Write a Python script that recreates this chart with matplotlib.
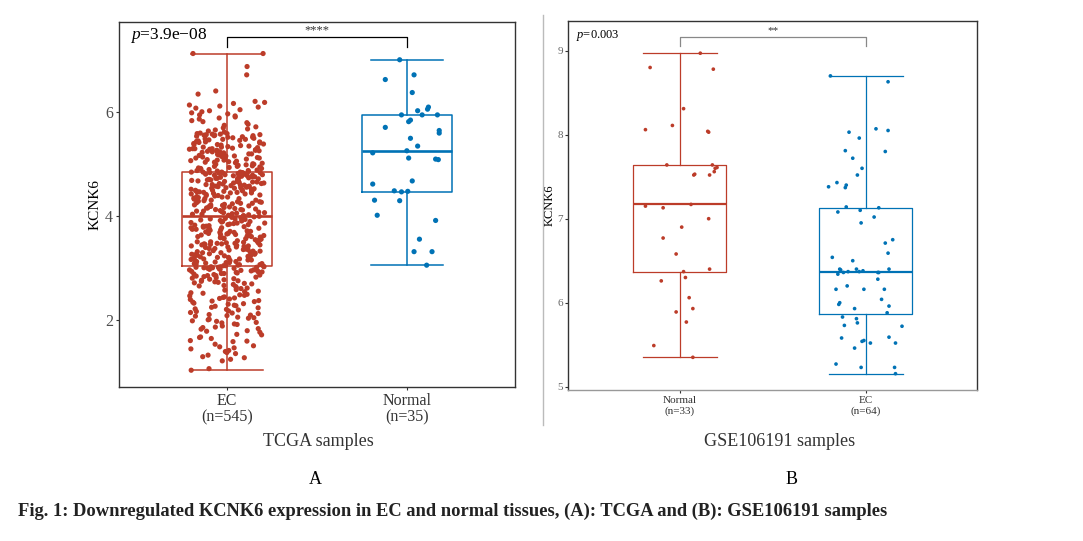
import numpy as np
import matplotlib
matplotlib.use("Agg")
import matplotlib.pyplot as plt
from matplotlib.lines import Line2D

plt.rcParams['font.family'] = ['Liberation Serif', 'DejaVu Serif']
plt.rcParams['mathtext.fontset'] = 'custom'
plt.rcParams['mathtext.rm'] = 'Liberation Serif'
plt.rcParams['mathtext.it'] = 'Liberation Serif:italic'

# ---------------- data ----------------
tcga_categories = ["EC\n(n=545)", "Normal\n(n=35)"]
gse_categories = ["Normal\n(n=33)", "EC\n(n=64)"]

tcga_ec = [
    1.04, 1.07, 1.22, 1.25, 1.28, 1.30, 1.33, 1.38, 1.40, 1.42, 1.45, 1.47, 1.36, 1.49,
    1.51, 1.54, 1.59, 1.60, 1.61, 1.65, 1.67, 1.68, 1.72, 1.73, 1.77, 1.79, 1.80, 1.83,
    1.84, 1.86, 1.87, 1.89, 1.92, 1.93, 1.95, 1.96, 1.98, 1.99,
    2.01, 2.02, 2.04, 2.05, 2.06, 2.08, 2.09, 2.10, 2.11, 2.13, 2.14, 2.15, 2.17, 2.18,
    2.20, 2.21, 2.22, 2.24, 2.25, 2.27, 2.28, 2.29, 2.31, 2.32, 2.33, 2.35, 2.36, 2.37,
    2.38, 2.40, 2.41, 2.42, 2.43, 2.44, 2.45, 2.47, 2.48, 2.49,
    2.50, 2.52, 2.53, 2.55, 2.56, 2.58, 2.59, 2.61, 2.62, 2.63, 2.65, 2.66, 2.67, 2.69,
    2.70, 2.71, 2.72, 2.73, 2.74, 2.75, 2.76, 2.77, 2.78, 2.79, 2.80, 2.81, 2.82, 2.83,
    2.84, 2.85, 2.86, 2.86, 2.87, 2.88, 2.89, 2.90, 2.90, 2.91, 2.92, 2.93, 2.93, 2.94,
    2.95, 2.95, 2.96, 2.97, 2.97, 2.98, 2.98, 2.99, 3.00, 3.00, 3.01, 3.01, 3.02, 3.02,
    3.02, 3.03, 3.03, 3.03,
    3.04, 3.05, 3.05, 3.06, 3.07, 3.07, 3.08, 3.09, 3.09, 3.10, 3.11, 3.11, 3.12, 3.13,
    3.13, 3.14, 3.15, 3.16, 3.16, 3.17, 3.18, 3.18, 3.19, 3.20, 3.21, 3.21, 3.22, 3.23,
    3.24, 3.24, 3.25, 3.26, 3.27, 3.27, 3.28, 3.29, 3.30, 3.30, 3.31, 3.32, 3.33, 3.33,
    3.34, 3.35, 3.36, 3.36, 3.37, 3.38, 3.38, 3.39, 3.40, 3.41, 3.41, 3.42, 3.43, 3.43,
    3.44, 3.45, 3.45, 3.46, 3.46, 3.47, 3.47, 3.48, 3.48, 3.49, 3.49, 3.50,
    3.51, 3.51, 3.52, 3.53, 3.53, 3.54, 3.55, 3.55, 3.56, 3.57, 3.57, 3.58, 3.59, 3.59,
    3.60, 3.61, 3.61, 3.62, 3.63, 3.63, 3.64, 3.65, 3.65, 3.66, 3.67, 3.67, 3.68, 3.69,
    3.69, 3.70, 3.71, 3.71, 3.72, 3.73, 3.73, 3.74, 3.75, 3.75, 3.76, 3.77, 3.78, 3.78,
    3.79, 3.80, 3.81, 3.81, 3.82, 3.83, 3.84, 3.84, 3.85, 3.86, 3.87, 3.87, 3.88, 3.89,
    3.90, 3.90, 3.91, 3.92, 3.93, 3.94, 3.95, 3.95, 3.96, 3.97, 3.98, 3.99,
    4.00, 4.01, 4.01, 4.02, 4.03, 4.04, 4.04, 4.05, 4.06, 4.07, 4.07, 4.08, 4.09, 4.10,
    4.10, 4.11, 4.12, 4.13, 4.13, 4.14, 4.15, 4.16, 4.16, 4.17, 4.18, 4.19, 4.19, 4.20,
    4.21, 4.22, 4.22, 4.23, 4.24, 4.25, 4.25, 4.26, 4.27, 4.28, 4.28, 4.29, 4.30, 4.31,
    4.31, 4.32, 4.33, 4.34, 4.34, 4.35, 4.36, 4.37, 4.37, 4.38, 4.39, 4.40, 4.40, 4.41,
    4.42, 4.43, 4.43, 4.44, 4.45, 4.45, 4.46, 4.46, 4.47, 4.47, 4.48, 4.48, 4.49, 4.49,
    4.50, 4.50,
    4.51, 4.51, 4.52, 4.52, 4.53, 4.54, 4.54, 4.55, 4.55, 4.56, 4.57, 4.57, 4.58, 4.58,
    4.59, 4.60, 4.60, 4.61, 4.61, 4.62, 4.63, 4.63, 4.64, 4.64, 4.65, 4.66, 4.66, 4.67,
    4.67, 4.68, 4.69, 4.69, 4.70, 4.70, 4.71, 4.72, 4.72, 4.73, 4.73, 4.74, 4.75, 4.75,
    4.76, 4.76, 4.77, 4.78, 4.78, 4.79, 4.79, 4.80, 4.80, 4.81, 4.81, 4.82, 4.82, 4.83,
    4.83, 4.83, 4.84, 4.84, 4.84, 4.85, 4.85, 4.85, 4.85,
    4.86, 4.87, 4.88, 4.88, 4.89, 4.90, 4.91, 4.92, 4.92, 4.93, 4.94, 4.95, 4.96, 4.96,
    4.97, 4.98, 4.99, 5.00, 5.00, 5.01, 5.02, 5.03, 5.04, 5.04, 5.05, 5.06, 5.07, 5.08,
    5.08, 5.09, 5.10, 5.11, 5.12, 5.12, 5.13, 5.14, 5.15, 5.16, 5.16, 5.17, 5.18, 5.19,
    5.20, 5.20, 5.21, 5.22, 5.23, 5.24, 5.24, 5.25, 5.25, 5.26, 5.26, 5.27, 5.27, 5.28,
    5.28, 5.29, 5.29, 5.30, 5.30, 5.30,
    5.31, 5.32, 5.33, 5.33, 5.34, 5.35, 5.36, 5.37, 5.38, 5.38, 5.39, 5.40, 5.41, 5.42,
    5.43, 5.43, 5.44, 5.45, 5.46, 5.47, 5.48, 5.48, 5.49, 5.50, 5.51, 5.52, 5.52, 5.53,
    5.54, 5.55, 5.55, 5.56, 5.56, 5.57, 5.57, 5.58, 5.58, 5.59, 5.59, 5.60,
    5.62, 5.64, 5.66, 5.68, 5.70, 5.72, 5.75, 5.77, 5.80, 5.82, 5.84, 5.87, 5.89, 5.91,
    5.93, 5.95, 5.97, 5.99,
    6.01, 6.03, 6.05, 6.08, 6.10, 6.12, 6.14, 6.17, 6.19, 6.21, 6.35, 6.41,
    6.72, 6.88, 7.13, 7.13,
]

tcga_normal = [7.01, 6.72, 6.63, 6.38, 6.03, 6.10, 6.06, 5.95, 5.95, 5.95, 5.85, 5.82,
               5.71, 5.60, 5.65, 5.50, 5.35, 5.22, 5.26, 5.12, 5.10, 5.09, 4.62, 4.68,
               4.49, 4.47, 4.48, 4.31, 4.30, 4.02, 3.92, 3.56, 3.32, 3.32, 3.06]

gse_normal = [8.97, 8.80, 8.78, 8.31, 8.06, 8.11, 8.04, 8.03, 7.64, 7.64, 7.53, 7.52,
              7.52, 7.60, 7.61, 7.56, 7.15, 7.13, 7.17, 7.00, 6.90, 6.77, 6.58, 6.37,
              6.40, 6.26, 6.30, 6.06, 5.89, 5.93, 5.77, 5.49, 5.35]

gse_ec = [8.70, 8.63, 8.07, 8.05, 8.03, 7.96, 7.81, 7.80, 7.72, 7.60,
          7.52, 7.43, 7.40, 7.37, 7.38, 7.14, 7.13, 7.08, 7.10, 7.02,
          6.95, 6.75, 6.71, 6.59, 6.54, 6.50, 6.40, 6.39, 6.34, 6.37,
          6.40, 6.37, 6.38, 6.36, 6.36, 6.40, 6.36, 6.16, 6.20, 6.16,
          6.28, 6.16, 6.04, 5.98, 6.00, 5.93, 5.96, 5.88, 5.83, 5.81,
          5.73, 5.76, 5.72, 5.58, 5.54, 5.55, 5.52, 5.59, 5.52, 5.46,
          5.27, 5.23, 5.23, 5.155]

# ---------------- jitter positions (horizontal offsets only) ----------------
jit_tcga_normal = [-0.04, 0.04, -0.12, 0.03, 0.06, 0.12, 0.115, -0.03, 0.085, 0.17, 0.02,
                   0.01, -0.12, 0.18, 0.18, 0.02, 0.06, -0.19, 0.0, 0.01, 0.16, 0.175,
                   -0.19, 0.03, -0.07, -0.03, 0.005, -0.18, -0.04, -0.165, 0.16, 0.07,
                   0.04, 0.14, 0.11]
jit_gse_normal = [0.11, -0.16, 0.18, 0.02, -0.185, -0.04, 0.15, 0.155, -0.07, 0.175, 0.08,
                  0.075, 0.16, 0.19, 0.2, 0.185, -0.185, -0.09, 0.06, 0.155, 0.01, -0.09,
                  -0.02, 0.02, 0.16, -0.10, 0.03, 0.05, -0.02, 0.07, 0.035, -0.14, 0.07]
jit_gse_ec = [-0.19, 0.12, 0.055, 0.12, -0.09, -0.035, -0.11, 0.105, -0.07, -0.02,
              -0.045, -0.155, -0.105, -0.11, -0.20, -0.105, 0.07, -0.15, -0.03, 0.045,
              -0.025, 0.145, 0.105, 0.12, -0.18, -0.07, -0.14, -0.135, -0.15, -0.095,
              -0.05, -0.035, -0.015, 0.065, 0.07, 0.125, -0.12, -0.16, -0.10, -0.01,
              0.065, 0.10, 0.085, -0.145, -0.14, -0.06, 0.125, 0.115, -0.125, -0.05,
              -0.115, -0.045, 0.195, -0.13, -0.02, -0.01, 0.025, 0.125, 0.16, -0.06,
              -0.16, -0.025, 0.155, 0.16]
_n = len(tcga_ec)
_hash = np.modf(np.abs(np.sin(np.arange(_n) * 12.9898 + 78.233)) * 43758.5453)[0]
jit_tcga_ec = list((_hash - 0.5) * 0.42)
jit_tcga_ec[0] = -0.2
jit_tcga_ec[-1] = 0.2
jit_tcga_ec[-2] = -0.19

RED = '#BC3C29'
BLUE = '#0072B5'
TXT = '#333333'

W, H = 1083, 541
fig = plt.figure(figsize=(W / 100, H / 100), dpi=100)


def px_axes(l, t, r, b):
    return fig.add_axes([l / W, 1 - b / H, (r - l) / W, (b - t) / H])


def draw_panel(ax, groups, jitters, colors, lw, mlw, ms):
    bp = ax.boxplot(groups, positions=[1, 2], widths=0.5, whis=1.5, showfliers=False,
                    capwidths=0.4, patch_artist=False, manage_ticks=False)
    for i, c in enumerate(colors):
        bp['boxes'][i].set(color=c, linewidth=lw, zorder=2)
        bp['medians'][i].set(color=c, linewidth=mlw, zorder=2)
        for k in (2 * i, 2 * i + 1):
            bp['whiskers'][k].set(color=c, linewidth=lw, zorder=2)
            bp['caps'][k].set(color=c, linewidth=lw, zorder=2)
    for i, (g, j, c) in enumerate(zip(groups, jitters, colors)):
        xs = [i + 1 + d for d in j]
        ax.scatter(xs, g, s=ms, color=c, edgecolors='none', zorder=3)
    ax.set_xlim(0.4, 2.6)
    for sp in ax.spines.values():
        sp.set_color(TXT)
        sp.set_linewidth(1.0)


# ---------- Panel A ----------
axA = px_axes(119.3, 21.5, 514.7, 386.5)
draw_panel(axA, [tcga_ec, tcga_normal], [jit_tcga_ec, jit_tcga_normal], [RED, BLUE],
           lw=1.1, mlw=1.9, ms=14)
axA.set_ylim(0.727, 7.746)
axA.set_yticks([2, 4, 6])
axA.set_xticks([1, 2])
axA.set_xticklabels(tcga_categories, fontsize=11.5, color=TXT, linespacing=1.05)
axA.tick_params(axis='y', labelsize=11.5, labelcolor='#4D4D4D', length=2.5, width=0.8,
                color=TXT, pad=2)
axA.tick_params(axis='x', length=2.5, width=0.8, color=TXT, pad=2)
axA.plot([1, 1, 2, 2], [7.26, 7.44, 7.44, 7.26], color='black', lw=0.9, zorder=4)
axA.text(1.5, 7.47, '****', ha='center', va='bottom', fontsize=9, color=TXT)
axA.text(0.027, 0.963, r'$p$=3.9e−08', transform=axA.transAxes, ha='left', va='center',
         fontsize=12.5, color='black')

# ---------- Panel B ----------
axB = px_axes(568.3, 20.7, 977.3, 390.0)
draw_panel(axB, [gse_normal, gse_ec], [jit_gse_normal, jit_gse_ec], [RED, BLUE],
           lw=0.9, mlw=1.6, ms=7)
axB.set_ylim(4.961, 9.357)
axB.set_yticks([5, 6, 7, 8, 9])
axB.set_xticks([1, 2])
axB.set_xticklabels(gse_categories, fontsize=8, color=TXT, linespacing=1.2)
axB.tick_params(axis='y', labelsize=8, labelcolor='#666666', length=2, width=0.8,
                color=TXT, pad=2)
axB.tick_params(axis='x', length=2, width=0.8, color=TXT, pad=2)
axB.spines['bottom'].set_color('#999999')
axB.plot([1, 1, 2, 2], [9.05, 9.167, 9.167, 9.05], color='#888888', lw=0.9, zorder=4)
axB.text(1.5, 9.19, '**', ha='center', va='bottom', fontsize=8, color=TXT)
axB.text(0.019, 0.959, r'$p$=0.003', transform=axB.transAxes, ha='left', va='center',
         fontsize=9, color='black')


def ftext(x, y, s, **kw):
    fig.text(x / W, 1 - y / H, s, **kw)


ftext(95, 204, 'KCNK6', rotation=90, ha='center', va='center', fontsize=11, color='black')
ftext(550, 205, 'KCNK6', rotation=90, ha='center', va='center', fontsize=9, color='black')
ftext(318, 441, 'TCGA samples', ha='center', va='center', fontsize=13, color=TXT)
ftext(780, 441, 'GSE106191 samples', ha='center', va='center', fontsize=13, color=TXT)
ftext(315, 479, 'A', ha='center', va='center', fontsize=13, color='black')
ftext(792, 479, 'B', ha='center', va='center', fontsize=13, color='black')
ftext(18, 511, 'Fig. 1: Downregulated KCNK6 expression in EC and normal tissues, (A): TCGA and (B): GSE106191 samples',
      ha='left', va='center', fontsize=13.35, fontweight='bold', color='#222222')

fig.add_artist(Line2D([543.3 / W, 543.3 / W], [1 - 15 / H, 1 - 425 / H], color='#BBBBBB', lw=1.0))

fig.savefig('out.png', dpi=100)
